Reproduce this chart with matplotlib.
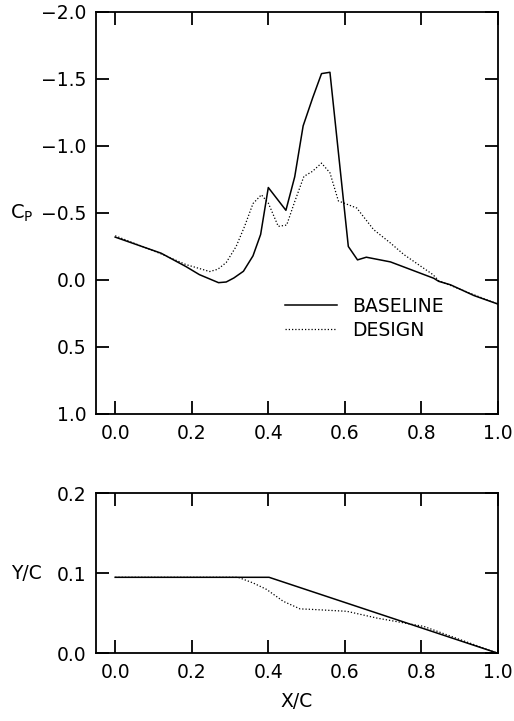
import matplotlib
matplotlib.use("Agg")
import matplotlib.pyplot as plt

# pressure distribution along the chord
x_base = [0.0, 0.06, 0.12, 0.185, 0.22, 0.27, 0.29, 0.31, 0.335, 0.36, 0.38,
          0.40, 0.446, 0.469, 0.491, 0.516, 0.539, 0.561, 0.609, 0.633,
          0.656, 0.719, 0.832, 0.845, 0.876, 0.937, 1.0]
cp_base = [-0.32, -0.26, -0.20, -0.10, -0.04, 0.02, 0.015, -0.015, -0.065,
           -0.18, -0.34, -0.69, -0.52, -0.77, -1.15, -1.36, -1.54, -1.55,
           -0.25, -0.15, -0.17, -0.135, -0.013, 0.01, 0.036, 0.116, 0.18]

x_design = [0.0, 0.12, 0.185, 0.247, 0.268, 0.29, 0.316, 0.338, 0.36, 0.382,
            0.40, 0.426, 0.448, 0.469, 0.493, 0.515, 0.539, 0.561, 0.583,
            0.631, 0.675, 0.719, 0.754, 0.83, 0.845, 0.937, 1.0]
cp_design = [-0.33, -0.195, -0.115, -0.063, -0.08, -0.13, -0.25, -0.40, -0.57,
             -0.636, -0.574, -0.40, -0.41, -0.585, -0.773, -0.81, -0.872,
             -0.80, -0.59, -0.537, -0.376, -0.276, -0.19, -0.04, 0.005,
             0.11, 0.18]

# airfoil upper surface
xs_base = [0.0, 0.402, 1.0]
ys_base = [0.095, 0.095, 0.0]
xs_design = [0.0, 0.321, 0.36, 0.395, 0.439, 0.483, 0.509, 0.605, 0.684,
             0.806, 1.0]
ys_design = [0.095, 0.095, 0.088, 0.080, 0.065, 0.0555, 0.055, 0.0525,
             0.044, 0.0336, 0.0]

x_ticks = [0.0, 0.2, 0.4, 0.6, 0.8, 1.0]

plt.rcParams["font.family"] = "DejaVu Sans"
plt.rcParams["font.size"] = 13.5
plt.rcParams["mathtext.fontset"] = "dejavusans"

fig = plt.figure(figsize=(5.14, 7.21), dpi=100)
ax1 = fig.add_axes([0.1868, 0.4258, 0.7821, 0.5576])
ax2 = fig.add_axes([0.1868, 0.0939, 0.7821, 0.2219])

for ax in (ax1, ax2):
    ax.set_xlim(-0.05, 1.0)
    ax.set_xticks(x_ticks)
    ax.set_xticklabels([f"{t:.1f}" for t in x_ticks])
    ax.tick_params(direction="in", length=9.5, width=1.3, top=True,
                   right=True, pad=7)
    for s in ax.spines.values():
        s.set_linewidth(1.3)

ax1.plot(x_base, cp_base, color="black", lw=1.1, label="BASELINE")
ax1.plot(x_design, cp_design, color="black", lw=0.9, linestyle=(0, (1, 1.6)),
         label="DESIGN")
ax1.set_ylim(1.0, -2.0)
ax1.set_yticks([-2.0, -1.5, -1.0, -0.5, 0.0, 0.5, 1.0])
ax1.set_yticklabels(["\u22122.0", "\u22121.5", "\u22121.0", "\u22120.5",
                     "0.0", "0.5", "1.0"])
ax1.set_ylabel(r"$\mathrm{C}_{\mathrm{P}}$", rotation=0, va="center",
               ha="center", fontsize=14)
ax1.yaxis.set_label_coords(-0.185, 0.5)
ax1.legend(loc="upper left", bbox_to_anchor=(0.47, 0.292), frameon=False,
           borderpad=0, borderaxespad=0, handlelength=2.8,
           handletextpad=0.8, labelspacing=0.28)

ax2.plot(xs_base, ys_base, color="black", lw=1.1)
ax2.plot(xs_design, ys_design, color="black", lw=0.9,
         linestyle=(0, (1, 1.6)))
ax2.set_ylim(0.0, 0.2)
ax2.set_yticks([0.0, 0.1, 0.2])
ax2.set_yticklabels(["0.0", "0.1", "0.2"])
ax2.set_ylabel("Y/C", rotation=0, va="center", ha="center")
ax2.yaxis.set_label_coords(-0.174, 0.5)
ax2.set_xlabel("X/C", labelpad=7)

fig.savefig("out.png", dpi=100)
